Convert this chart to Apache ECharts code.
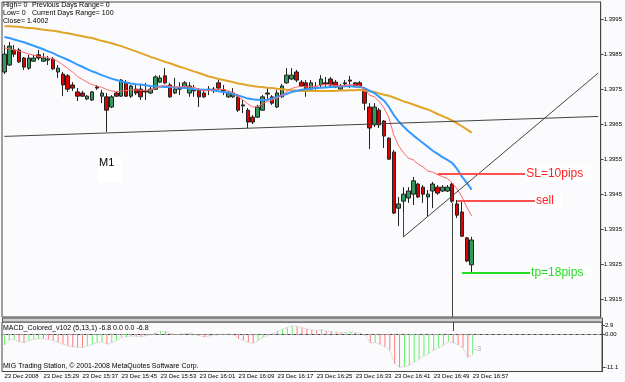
<!DOCTYPE html>
<html>
<head>
<meta charset="utf-8">
<script src="https://cdn.jsdelivr.net/npm/echarts@6.0.0/dist/echarts.min.js"></script>
<style>
html,body{margin:0;padding:0;background:#fbfbfd;}
#main{width:625px;height:382px;}
</style>
</head>
<body>
<div id="main"></div>
<script>
// EURUSD M1, 23 Dec 2008, bars 15:21 .. 16:57
var opens = [1.39800,1.39820,1.39863,1.39863,1.39840,1.39811,1.39831,1.39849,1.39831,1.39837,
 1.39837,1.39800,1.39794,1.39789,1.39763,1.39743,1.39740,1.39723,1.39720,1.39757,
 1.39731,1.39729,1.39700,1.39740,1.39731,1.39769,1.39731,1.39751,1.39751,1.39746,
 1.39740,1.39751,1.39771,1.39789,1.39763,1.39740,1.39754,1.39757,1.39740,1.39749,
 1.39749,1.39740,1.39751,1.39751,1.39769,1.39749,1.39729,1.39729,1.39729,1.39706,
 1.39691,1.39671,1.39671,1.39691,1.39740,1.39729,1.39700,1.39729,1.39769,1.39780,
 1.39800,1.39771,1.39769,1.39751,1.39757,1.39763,1.39769,1.39780,1.39771,1.39751,
 1.39769,1.39777,1.39769,1.39769,1.39749,1.39700,1.39649,1.39691,1.39660,1.39611,
 1.39571,1.39411,1.39431,1.39440,1.39451,1.39480,1.39471,1.39443,1.39460,1.39471,
 1.39460,1.39460,1.39480,1.39423,1.39400,1.39326,1.39249];
var closes = [1.39851,1.39874,1.39851,1.39829,1.39814,1.39840,1.39840,1.39840,1.39840,1.39834,
 1.39809,1.39811,1.39763,1.39751,1.39754,1.39731,1.39731,1.39731,1.39743,1.39754,
 1.39740,1.39691,1.39729,1.39731,1.39777,1.39731,1.39760,1.39740,1.39729,1.39743,
 1.39751,1.39786,1.39783,1.39769,1.39729,1.39751,1.39751,1.39769,1.39760,1.39746,
 1.39729,1.39729,1.39749,1.39749,1.39754,1.39746,1.39740,1.39740,1.39691,1.39703,
 1.39657,1.39657,1.39700,1.39729,1.39737,1.39711,1.39740,1.39760,1.39791,1.39791,
 1.39777,1.39760,1.39749,1.39769,1.39754,1.39780,1.39766,1.39763,1.39757,1.39760,
 1.39766,1.39774,1.39760,1.39760,1.39711,1.39640,1.39700,1.39649,1.39617,1.39551,
 1.39397,1.39423,1.39451,1.39460,1.39489,1.39443,1.39451,1.39451,1.39480,1.39454,
 1.39471,1.39471,1.39431,1.39391,1.39331,1.39260,1.39320];
var lows = [1.39794,1.39817,1.39843,1.39826,1.39806,1.39806,1.39829,1.39834,1.39829,1.39820,
 1.39806,1.39783,1.39731,1.39743,1.39746,1.39717,1.39729,1.39720,1.39717,1.39749,
 1.39711,1.39629,1.39697,1.39729,1.39729,1.39729,1.39726,1.39734,1.39720,1.39720,
 1.39737,1.39749,1.39769,1.39766,1.39726,1.39737,1.39734,1.39754,1.39729,1.39729,
 1.39700,1.39726,1.39734,1.39740,1.39749,1.39734,1.39726,1.39726,1.39686,1.39683,
 1.39640,1.39651,1.39669,1.39689,1.39720,1.39706,1.39697,1.39726,1.39766,1.39777,
 1.39771,1.39757,1.39729,1.39743,1.39749,1.39757,1.39757,1.39760,1.39754,1.39749,
 1.39757,1.39754,1.39757,1.39757,1.39691,1.39580,1.39643,1.39640,1.39583,1.39549,
 1.39394,1.39360,1.39400,1.39426,1.39420,1.39440,1.39426,1.39386,1.39411,1.39449,
 1.39457,1.39457,1.39426,1.39383,1.39329,1.39257,1.39226];
var highs = [1.39877,1.39886,1.39877,1.39869,1.39843,1.39849,1.39849,1.39863,1.39854,1.39846,
 1.39843,1.39820,1.39800,1.39794,1.39771,1.39754,1.39746,1.39734,1.39746,1.39763,
 1.39749,1.39740,1.39734,1.39743,1.39780,1.39777,1.39763,1.39763,1.39763,1.39769,
 1.39757,1.39791,1.39791,1.39811,1.39769,1.39783,1.39771,1.39774,1.39771,1.39763,
 1.39754,1.39749,1.39760,1.39757,1.39777,1.39763,1.39746,1.39754,1.39737,1.39720,
 1.39697,1.39677,1.39706,1.39734,1.39757,1.39734,1.39749,1.39766,1.39811,1.39811,
 1.39806,1.39777,1.39777,1.39777,1.39771,1.39791,1.39786,1.39786,1.39777,1.39766,
 1.39777,1.39789,1.39771,1.39774,1.39754,1.39711,1.39711,1.39697,1.39663,1.39614,
 1.39577,1.39443,1.39471,1.39471,1.39500,1.39483,1.39477,1.39463,1.39486,1.39477,
 1.39477,1.39477,1.39483,1.39434,1.39431,1.39329,1.39329];

// moving averages
var maRed = [1.39869,1.39866,1.39863,1.39860,1.39856,1.39851,1.39848,1.39845,1.39843,1.39841,
 1.39837,1.39830,1.39821,1.39810,1.39800,1.39787,1.39779,1.39771,1.39764,1.39760,
 1.39756,1.39750,1.39746,1.39744,1.39746,1.39747,1.39749,1.39749,1.39748,1.39748,
 1.39749,1.39753,1.39759,1.39763,1.39759,1.39757,1.39757,1.39759,1.39757,1.39756,
 1.39750,1.39746,1.39747,1.39749,1.39751,1.39750,1.39746,1.39741,1.39730,1.39720,
 1.39709,1.39700,1.39701,1.39709,1.39716,1.39720,1.39726,1.39734,1.39744,1.39753,
 1.39757,1.39759,1.39757,1.39759,1.39759,1.39763,1.39764,1.39764,1.39761,1.39760,
 1.39761,1.39764,1.39763,1.39761,1.39751,1.39734,1.39729,1.39716,1.39697,1.39669,
 1.39620,1.39589,1.39569,1.39554,1.39549,1.39537,1.39529,1.39517,1.39514,1.39507,
 1.39501,1.39496,1.39483,1.39466,1.39443,1.39414,1.39389];
var maBlue = [1.39900,1.39897,1.39893,1.39889,1.39885,1.39880,1.39875,1.39870,1.39865,1.39859,
 1.39854,1.39847,1.39841,1.39835,1.39828,1.39821,1.39815,1.39808,1.39802,1.39797,
 1.39791,1.39786,1.39781,1.39777,1.39773,1.39770,1.39767,1.39765,1.39764,1.39762,
 1.39760,1.39759,1.39758,1.39757,1.39757,1.39756,1.39755,1.39754,1.39753,1.39751,
 1.39750,1.39749,1.39749,1.39747,1.39745,1.39743,1.39741,1.39737,1.39733,1.39729,
 1.39724,1.39722,1.39721,1.39720,1.39721,1.39724,1.39729,1.39733,1.39738,1.39743,
 1.39746,1.39749,1.39751,1.39752,1.39754,1.39755,1.39756,1.39757,1.39758,1.39759,
 1.39759,1.39760,1.39758,1.39757,1.39754,1.39747,1.39740,1.39729,1.39718,1.39700,
 1.39677,1.39659,1.39644,1.39631,1.39619,1.39608,1.39597,1.39586,1.39575,1.39566,
 1.39557,1.39549,1.39540,1.39523,1.39501,1.39483,1.39464];
var maGold = [1.39931,1.39931,1.39930,1.39929,1.39927,1.39926,1.39925,1.39923,1.39921,1.39919,
 1.39918,1.39916,1.39913,1.39911,1.39908,1.39905,1.39902,1.39899,1.39897,1.39893,
 1.39889,1.39886,1.39882,1.39878,1.39874,1.39869,1.39864,1.39859,1.39854,1.39849,
 1.39843,1.39839,1.39834,1.39829,1.39825,1.39820,1.39815,1.39811,1.39806,1.39801,
 1.39797,1.39792,1.39787,1.39784,1.39780,1.39777,1.39774,1.39771,1.39767,1.39765,
 1.39762,1.39760,1.39758,1.39757,1.39755,1.39754,1.39752,1.39751,1.39749,1.39748,
 1.39747,1.39746,1.39746,1.39746,1.39746,1.39746,1.39746,1.39746,1.39746,1.39747,
 1.39747,1.39748,1.39748,1.39749,1.39747,1.39745,1.39743,1.39739,1.39735,1.39732,
 1.39727,1.39722,1.39716,1.39712,1.39707,1.39702,1.39697,1.39693,1.39687,1.39680,
 1.39674,1.39668,1.39661,1.39653,1.39645,1.39636,1.39627];

// MACD_Colored (5,13,1) histogram
var macd = [-3.7,-2.0,-1.8,-2.6,-2.9,-2.2,-1.8,-1.5,-1.6,-1.8,
 -2.2,-2.8,-3.4,-3.9,-4.3,-4.4,-4.5,-3.9,-3.5,-2.9,
 -2.6,-3.4,-2.9,-2.2,-1.2,-0.9,-0.7,-0.8,-0.9,-0.6,
 -0.3,0.3,0.9,0.8,0.2,-0.2,-0.1,0.1,0.2,-0.2,
 -0.6,-1.0,-0.7,-0.3,-0.2,-0.1,0.0,-0.3,-1.5,-2.2,
 -2.7,-3.1,-2.2,-1.1,-0.4,0.2,0.8,1.6,2.2,2.7,
 2.6,2.1,1.7,1.3,1.2,1.4,1.0,0.8,0.6,0.4,
 0.5,0.7,0.5,0.2,-0.5,-3.0,-2.8,-3.5,-4.3,-5.4,
 -9.9,-11.1,-10.9,-10.4,-9.3,-8.4,-7.4,-6.5,-5.4,-4.6,
 -3.7,-2.6,-2.9,-3.6,-4.7,-7.8,-6.8];

var priceTicks = [1.3915,1.3925,1.3935,1.3945,1.3955,1.3965,1.3975,1.3985,1.3995];
var macdTicks = [2.9, 0, -11.1];
var bidPrice = 1.3932;
var timeTickIdx = [0,8,16,24,32,40,48,56,64,72,80,88,96];
var timeTickText = ['23 Dec 2008','23 Dec 15:29','23 Dec 15:37','23 Dec 15:45','23 Dec 15:53',
 '23 Dec 16:01','23 Dec 16:09','23 Dec 16:17','23 Dec 16:25','23 Dec 16:33','23 Dec 16:41',
 '23 Dec 16:49','23 Dec 16:57'];

var slotCount = 123; // bars + right shift
var times = [];
for (var i = 0; i < slotCount; i++) {
  var m = 15 * 60 + 21 + i;
  times.push(Math.floor(m / 60) + ':' + ('0' + (m % 60)).slice(-2));
}
var candles = opens.map(function (o, i) { return [o, closes[i], lows[i], highs[i]]; });

var smallFont = '"Liberation Sans",Arial,sans-serif';
var txtFont = '"Liberation Sans",Arial,sans-serif';

var myChart = echarts.init(document.getElementById('main'));
var option = {
  animation: false,
  backgroundColor: '#fbfbfd',
  grid: [
    {left: 2, right: 23, top: 2, height: 315, show: true, borderColor: '#444', borderWidth: 1},
    {left: 2, right: 23, top: 322, height: 49.5, show: true, borderColor: '#444', borderWidth: 1}
  ],
  xAxis: [
    {type: 'category', gridIndex: 0, data: times, boundaryGap: true, show: false},
    {
      type: 'category', gridIndex: 1, data: times, boundaryGap: true,
      axisLine: {lineStyle: {color: '#444'}},
      axisTick: {
        length: 3, alignWithLabel: true, lineStyle: {color: '#444'},
        interval: function (idx) { return timeTickIdx.indexOf(idx) >= 0; }
      },
      axisLabel: {
        fontSize: 6, fontFamily: smallFont, color: '#000', margin: 2, align: 'left',
        showMinLabel: true, showMaxLabel: true, hideOverlap: false,
        interval: function (idx) { return timeTickIdx.indexOf(idx) >= 0; },
        formatter: function (v, idx) { return timeTickText[timeTickIdx.indexOf(idx)]; }
      },
      splitLine: {show: false}
    }
  ],
  yAxis: [
    {
      type: 'value', gridIndex: 0, position: 'right', min: 1.3910, max: 1.4000, scale: true,
      axisLine: {show: true, lineStyle: {color: '#444'}},
      axisTick: {show: true, length: 3, customValues: priceTicks, lineStyle: {color: '#444'}},
      axisLabel: {
        customValues: priceTicks, fontSize: 6, fontFamily: smallFont, color: '#000', margin: 3,
        formatter: function (v) { return v.toFixed(4); }
      },
      splitLine: {show: false}
    },
    {
      type: 'value', gridIndex: 1, position: 'right', min: -12.5, max: 4.0,
      axisLine: {show: true, lineStyle: {color: '#444'}},
      axisTick: {show: true, length: 3, customValues: macdTicks, lineStyle: {color: '#444'}},
      axisLabel: {
        customValues: macdTicks, fontSize: 6, fontFamily: smallFont, color: '#000', margin: 3,
        formatter: function (v) { return v === 0 ? '0.00' : String(v); }
      },
      splitLine: {show: false}
    }
  ],
  series: [
    {
      type: 'candlestick', xAxisIndex: 0, yAxisIndex: 0, data: candles, barWidth: 4,
      itemStyle: {color: '#33995c', color0: '#e00000', borderColor: '#222', borderColor0: '#222', borderWidth: 1},
      markLine: {
        silent: true, symbol: ['none', 'none'],
        label: {show: false},
        lineStyle: {color: '#444', width: 1, type: 'solid'},
        data: [
          {yAxis: bidPrice, lineStyle: {color: '#c8c8c8'},
           label: {show: true, position: 'end', distance: 1, formatter: '1.3932', fontSize: 6, fontFamily: smallFont,
                   color: '#000', backgroundColor: '#e4e4e4', borderColor: '#000', borderWidth: 1, padding: [1, 2]}},
          [{coord: [0, 1.39616]}, {coord: [122, 1.39673]}],
          [{coord: [82, 1.39329]}, {coord: [122, 1.39797]}],
          [{coord: [82, 1.39400]}, {coord: [82, 1.39329]}],
          [{coord: [92, 1.39426]}, {coord: [92, 1.3910]}],
          [{coord: [89, 1.39509], lineStyle: {color: '#ff5050', width: 2},
            label: {show: true, position: 'end', distance: 0, formatter: 'SL=10pips', color: '#ff2020', fontSize: 12,
                    fontFamily: txtFont, backgroundColor: '#fff', padding: [1, 8, 1, 1]}},
           {coord: [107, 1.39509]}],
          [{coord: [93, 1.39431], lineStyle: {color: '#ff5050', width: 2},
            label: {show: true, position: 'end', distance: 0, formatter: 'sell', color: '#ff2020', fontSize: 12,
                    fontFamily: txtFont, backgroundColor: '#fff', padding: [1, 8, 1, 1]}},
           {coord: [109, 1.39431]}],
          [{coord: [94, 1.39227], lineStyle: {color: '#22dd22', width: 2},
            label: {show: true, position: 'end', distance: 0, formatter: 'tp=18pips', color: '#22dd22', fontSize: 12,
                    fontFamily: txtFont, backgroundColor: '#fff', padding: [1, 8, 1, 1]}},
           {coord: [108, 1.39227]}]
        ]
      }
    },
    {type: 'line', xAxisIndex: 0, yAxisIndex: 0, data: maGold, symbol: 'none', lineStyle: {color: '#e0a428', width: 2}},
    {type: 'line', xAxisIndex: 0, yAxisIndex: 0, data: maBlue, symbol: 'none', lineStyle: {color: '#3399ff', width: 2}},
    {type: 'line', xAxisIndex: 0, yAxisIndex: 0, data: maRed, symbol: 'none', lineStyle: {color: '#ff6666', width: 1}},
    {
      type: 'bar', xAxisIndex: 1, yAxisIndex: 1, data: macd, barWidth: 1,
      itemStyle: {
        color: function (p) {
          var i = p.dataIndex;
          return (i === 0 || macd[i] >= macd[i - 1]) ? '#66f066' : '#ff7a7a';
        }
      },
      markLine: {
        silent: true, symbol: ['none', 'none'], label: {show: false},
        data: [
          {yAxis: 0, lineStyle: {color: '#9a9a9a', type: 'dashed', width: 1}},
          [{coord: [92, 4.0], lineStyle: {color: '#444', type: 'solid', width: 1}}, {coord: [92, 1.0]}]
        ]
      }
    },
    {type: 'line', xAxisIndex: 1, yAxisIndex: 1, data: macd, symbol: 'none',
     lineStyle: {color: '#c4c4c4', width: 1, type: 'dotted'}}
  ],
  graphic: [
    {type: 'rect', left: 2, top: 317.5, shape: {width: 600, height: 4}, style: {fill: '#cfcfcf', stroke: '#555', lineWidth: 1}},
    {type: 'text', left: 3, top: 2, style: {text: 'High= 0', font: '7px ' + smallFont, fill: '#000'}},
    {type: 'text', left: 32, top: 2, style: {text: 'Previous Days Range= 0', font: '7px ' + smallFont, fill: '#000'}},
    {type: 'text', left: 3, top: 10, style: {text: 'Low= 0', font: '7px ' + smallFont, fill: '#000'}},
    {type: 'text', left: 32, top: 10, style: {text: 'Current Days Range= 100', font: '7px ' + smallFont, fill: '#000'}},
    {type: 'text', left: 3, top: 18, style: {text: 'Close= 1.4002', font: '7px ' + smallFont, fill: '#000'}},
    {type: 'rect', left: 98, top: 157, shape: {width: 24, height: 25}, style: {fill: '#ffffff'}},
    {type: 'text', left: 99, top: 157, style: {text: 'M1', font: '11px ' + txtFont, fill: '#000'}},
    {type: 'text', left: 3, top: 325, style: {text: 'MACD_Colored_v102 (5,13,1) -6.8 0.0 0.0 -6.8', font: '7px ' + smallFont, fill: '#000'}},
    {type: 'text', left: 3, top: 363, style: {text: 'MIG Trading Station, \u00a9 2001-2008 MetaQuotes Software Corp.', font: '7px ' + smallFont, fill: '#000'}},
    {type: 'text', left: 474, top: 345, style: {text: '-3', font: '8px ' + smallFont, fill: '#b0b0b0'}}
  ]
};
myChart.setOption(option);
</script>
</body>
</html>
